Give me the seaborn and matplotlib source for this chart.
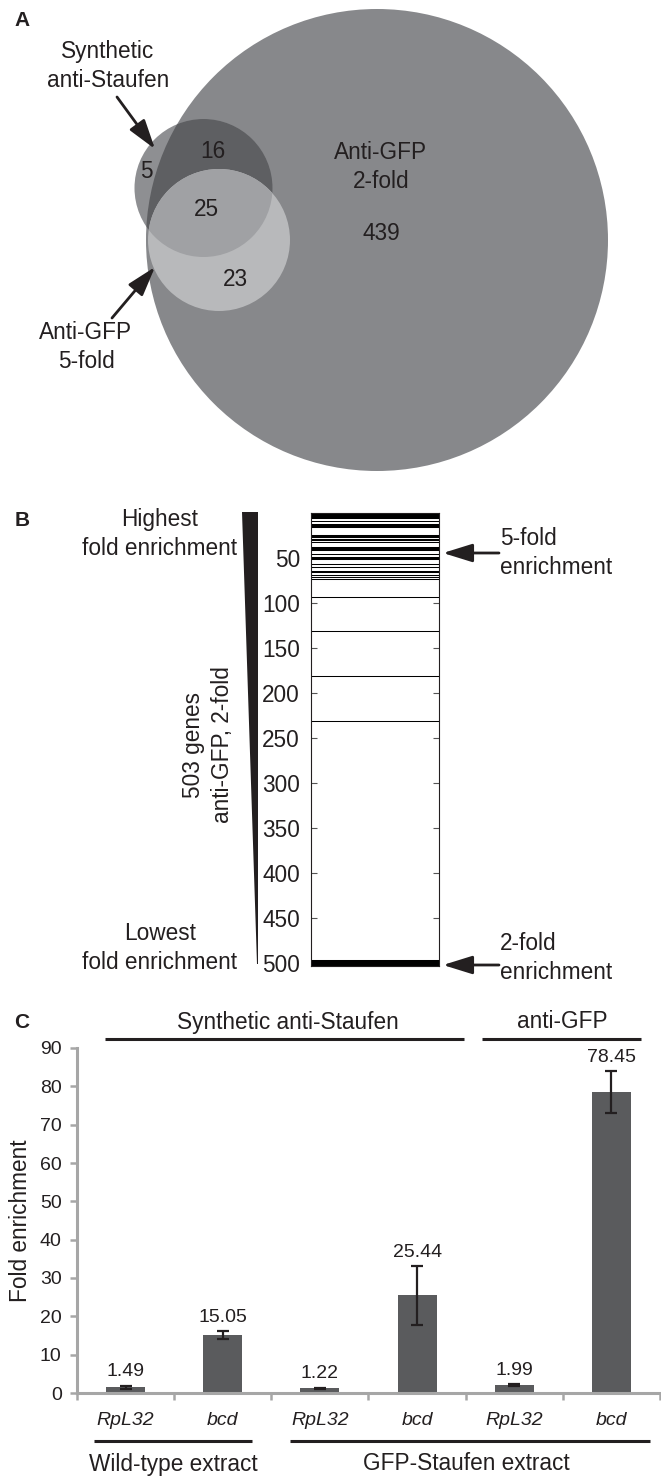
import numpy as np
import pandas as pd
import matplotlib
matplotlib.use("Agg")
import matplotlib.pyplot as plt
import seaborn as sns
from matplotlib.patches import Circle

# ---------------- data ----------------
# Panel A: Venn counts
venn_counts = [5, 16, 25, 23, 439]   # stau only, stau∩2fold, all three, 5fold only(in 2fold), 2fold only
# Panel B: ranks (of 503 genes, 2-fold anti-GFP) that are also Staufen targets
total_genes = 503
marked_ranks = [1, 2, 3, 4, 5, 7, 10, 13, 14, 15, 16, 17, 25, 27, 28, 30, 31, 33,
                39, 40, 41, 42, 47, 50, 51, 52, 58, 61, 65, 66, 70, 72, 74,
                94, 132, 182, 232, 497, 498, 499, 500, 501, 502, 503]
rank_ticks = [50, 100, 150, 200, 250, 300, 350, 400, 450, 500]
# Panel C
genes = ["RpL32", "bcd", "RpL32", "bcd", "RpL32", "bcd"]
means = [1.49, 15.05, 1.22, 25.44, 1.99, 78.45]
errors = [0.35, 1.0, 0.2, 7.6, 0.25, 5.5]
c_yticks = [0, 10, 20, 30, 40, 50, 60, 70, 80, 90]

TXT = "#231f20"
W, H = 661, 1476

sns.set_theme(style="white")
plt.rcParams["font.family"] = ["Liberation Sans", "DejaVu Sans"]
plt.rcParams["text.color"] = TXT

fig = plt.figure(figsize=(W / 100, H / 100), dpi=100)
fig.patch.set_facecolor("white")

# overlay axes in pixel coordinates
ax0 = fig.add_axes([0, 0, 1, 1])
ax0.set_xlim(0, W)
ax0.set_ylim(H, 0)
ax0.axis("off")
ax0.patch.set_alpha(0)

FS = 16.3
FSC = 14
LS = 1.3

# ---------------- Panel A ----------------
ax0.text(22, 20, "A", fontsize=15, fontweight="bold", ha="center", va="center", color=TXT)
big = Circle((377, 240), 231, facecolor="#87888b", edgecolor="none", zorder=1)
ax0.add_patch(big)
stau = Circle((203.5, 188), 69, facecolor="#8e8f92", edgecolor="none", zorder=2)
ax0.add_patch(stau)
stau_in = Circle((203.5, 188), 69, facecolor="#5e5f62", edgecolor="none", zorder=3)
ax0.add_patch(stau_in)
stau_in.set_clip_path(big)
five = Circle((219, 240), 71, facecolor="#b8b9bb", edgecolor="none", zorder=4)
ax0.add_patch(five)
five_in = Circle((219, 240), 71, facecolor="#a0a1a4", edgecolor="none", zorder=5)
ax0.add_patch(five_in)
five_in.set_clip_path(stau)

tk = dict(fontsize=FS, ha="center", va="center", color=TXT, zorder=10)
ax0.text(146, 172, str(venn_counts[0]), **tk)
ax0.text(213, 151, str(venn_counts[1]), **tk)
ax0.text(206, 209, str(venn_counts[2]), **tk)
ax0.text(235, 279, str(venn_counts[3]), **tk)
ax0.text(381, 233, str(venn_counts[4]), **tk)
ax0.text(381, 167, "Anti-GFP\n2-fold", linespacing=LS, **tk)
ax0.text(108, 66, "Synthetic\nanti-Staufen", linespacing=LS, **tk)
ax0.text(86, 347, "Anti-GFP\n5-fold", linespacing=LS, **tk)

arr = dict(arrowstyle="-|>,head_length=0.9,head_width=0.28", lw=2.0, color=TXT,
           mutation_scale=20, shrinkA=0, shrinkB=0)
ax0.annotate("", xy=(155, 149), xytext=(117, 97), arrowprops=arr, zorder=11)
ax0.annotate("", xy=(155, 267), xytext=(112, 318), arrowprops=arr, zorder=11)

# ---------------- Panel B ----------------
ax0.text(22, 521, "B", fontsize=15, fontweight="bold", ha="center", va="center", color=TXT)
ax0.text(160, 534, "Highest\nfold enrichment", linespacing=LS, **tk)
ax0.text(160, 948, "Lowest\nfold enrichment", linespacing=LS, **tk)
ax0.text(208, 745, "503 genes\nanti-GFP, 2-fold", rotation=90, linespacing=LS, **tk)
ax0.fill([242, 258, 258, 256.5], [512, 512, 964, 964], color=TXT, lw=0)
ax0.text(500, 553, "5-fold\nenrichment", fontsize=FS, ha="left", va="center",
         linespacing=LS, color=TXT)
ax0.text(500, 958, "2-fold\nenrichment", fontsize=FS, ha="left", va="center",
         linespacing=LS, color=TXT)
ax0.annotate("", xy=(443, 553), xytext=(499, 553), arrowprops=arr)
ax0.annotate("", xy=(443, 965), xytext=(499, 965), arrowprops=arr)

top_px, bot_px = 512.5, 965.7
axB = fig.add_axes([311 / W, 1 - bot_px / H, (439 - 311) / W, (bot_px - top_px) / H])
axB.set_xlim(0, 1)
axB.set_ylim(total_genes, 0)
axB.hlines([r - 0.5 for r in marked_ranks], 0, 1, color="black", lw=0.75)
axB.set_xticks([])
axB.set_yticks(rank_ticks)
axB.tick_params(axis="y", direction="in", left=True, right=True, length=4,
                width=0.8, color="#555555", labelsize=FS, pad=8, labelcolor=TXT)
for s in axB.spines.values():
    s.set_color("#231f20")
    s.set_linewidth(0.8)
axB.set_facecolor("white")

# ---------------- Panel C ----------------
ax0.text(22, 1022, "C", fontsize=15, fontweight="bold", ha="center", va="center", color=TXT)
ax0.text(288, 1022, "Synthetic anti-Staufen", **tk)
ax0.text(562, 1022, "anti-GFP", **tk)
ax0.plot([105, 464], [1039, 1039], color=TXT, lw=2.2, solid_capstyle="butt")
ax0.plot([482, 641], [1039, 1039], color=TXT, lw=2.2, solid_capstyle="butt")
ax0.plot([94, 252], [1441, 1441], color=TXT, lw=2.2, solid_capstyle="butt")
ax0.plot([290, 650], [1441, 1441], color=TXT, lw=2.2, solid_capstyle="butt")
ax0.text(173, 1464, "Wild-type extract", **tk)
ax0.text(466, 1464, "GFP-Staufen extract", **tk)

c_top, c_bot = 1048, 1393
axC = fig.add_axes([77 / W, 1 - c_bot / H, (660 - 77) / W, (c_bot - c_top) / H])
df = pd.DataFrame({"cond": [f"c{i}" for i in range(len(means))], "value": means})
sns.barplot(data=df, x="cond", y="value", color="#5a5b5d", saturation=1, width=0.4,
            edgecolor="none", errorbar=None, ax=axC)
xs = np.arange(len(means))
axC.errorbar(xs, means, yerr=errors, fmt="none", ecolor=TXT, elinewidth=1.6,
             capsize=4, capthick=1.6)
for x, m, e in zip(xs, means, errors):
    axC.annotate(f"{m:.2f}", xy=(x, m + e), xytext=(0, 4), textcoords="offset points",
                 ha="center", va="bottom", fontsize=FSC, color=TXT)
axC.set_xlim(-0.5, len(means) - 0.5)
axC.set_ylim(0, 90)
axC.set_yticks(c_yticks)
axC.set_xticks(xs)
axC.set_xticklabels(genes, fontstyle="italic", fontsize=FSC, color=TXT)
axC.set_xticks(np.arange(-0.5, len(means)), minor=True)
axC.tick_params(axis="x", which="major", length=0, pad=14)
axC.tick_params(axis="x", which="minor", length=5, width=1.8, color="#a6a6a6", direction="out", bottom=True)
axC.tick_params(axis="y", length=5, width=1.8, color="#a6a6a6", direction="out", left=True,
                labelsize=FSC, labelcolor=TXT, pad=6)
axC.set_xlabel("")
axC.set_ylabel("Fold enrichment", fontsize=FS, color=TXT, labelpad=6)
for s in ["top", "right"]:
    axC.spines[s].set_visible(False)
for s in ["left", "bottom"]:
    axC.spines[s].set_color("#a6a6a6")
    axC.spines[s].set_linewidth(2.2)
axC.set_facecolor("none")

fig.savefig("out.png", dpi=100, facecolor="white")
